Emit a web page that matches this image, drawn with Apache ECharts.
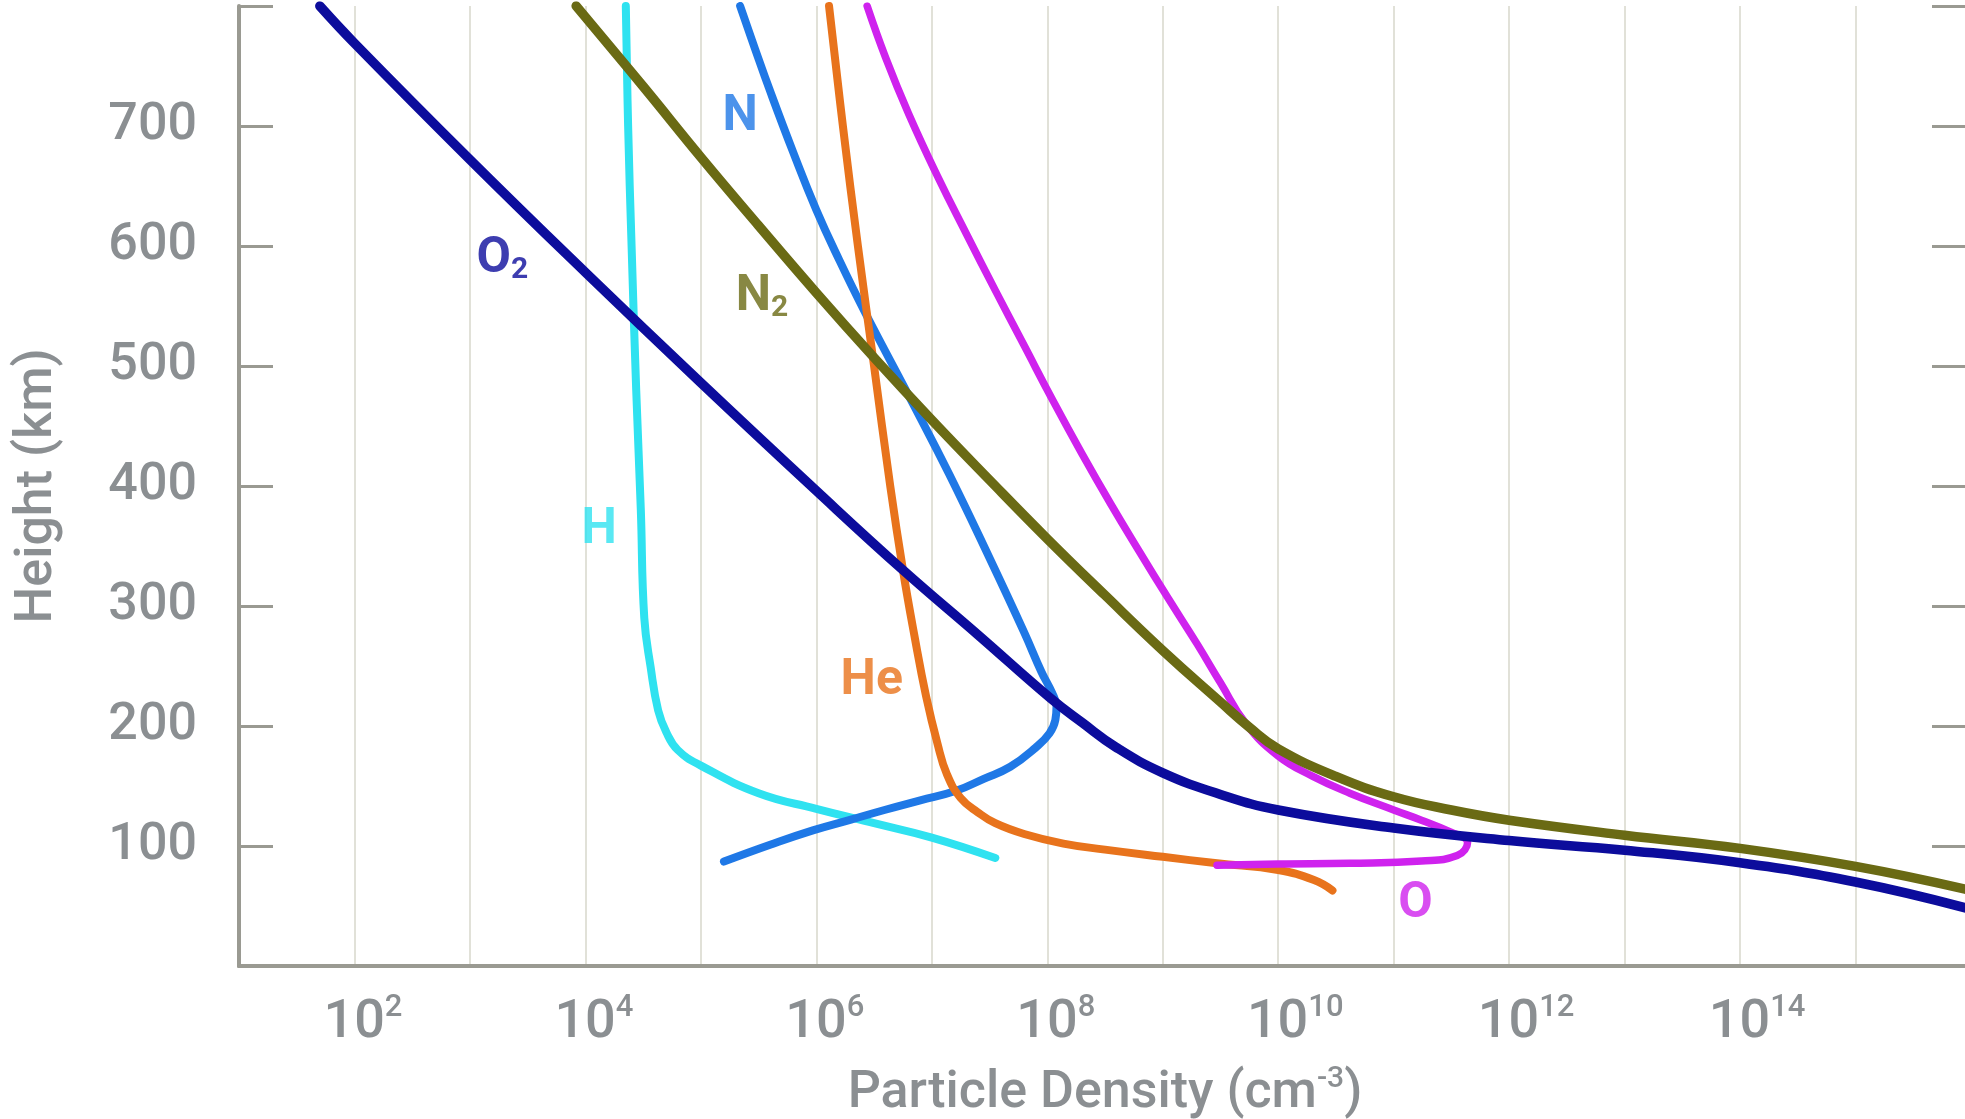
<!DOCTYPE html>
<html>
<head>
<meta charset="utf-8">
<script src="https://cdn.jsdelivr.net/npm/echarts@6/dist/echarts.min.js"></script>
<style>
  html, body { margin: 0; padding: 0; background: #ffffff; }
  #chart { width: 1965px; height: 1119px; }
</style>
</head>
<body>
<div id="chart"></div>
<script>
// ---------- axis ticks ----------
const heightTickValues = [100, 200, 300, 400, 500, 600, 700];
const densityLabelExponents = [2, 4, 6, 8, 10, 12, 14];   // labels 10^2 ... 10^14

// ---------- data: log10(particle density, cm^-3) and height (km) ----------
const O2_logDensity = [1.70, 2.0, 3.0, 4.0, 5.0, 6.0, 6.75, 7.4, 8.03, 8.3, 8.6, 9.0, 9.5, 10.0, 11.0, 12.0, 13.0, 14.0, 15.0, 15.97];
const O2_height     = [800, 769, 672, 578, 486, 396, 330, 276, 223, 203, 182, 161, 143, 130, 115, 104.5, 96.5, 86, 70, 48];

const N2_logDensity = [3.92, 4.5, 5.0, 5.5, 6.0, 6.5, 7.0, 7.5, 8.0, 8.5, 9.0, 9.5, 9.75, 10.0, 10.5, 11.0, 11.5, 12.0, 13.0, 14.0, 15.0, 15.95];
const N2_height     = [800, 733, 674, 617, 561, 507, 455, 405, 356, 309, 263, 220, 199, 181, 158, 141, 130, 121.5, 109, 98, 83, 64];

const H_logDensity  = [4.35, 4.37, 4.40, 4.44, 4.48, 4.51, 4.565, 4.63, 4.70, 4.80, 5.0, 5.5, 6.0, 6.5, 7.0, 7.55];
const H_height      = [800, 700, 600, 480, 380, 290, 249, 213, 195, 180, 167, 144, 131, 119, 107, 90];

const N_logDensity  = [5.34, 5.47, 5.60, 5.80, 6.00, 6.20, 6.42, 6.84, 7.15, 7.50, 7.80, 7.95, 8.04, 8.08, 8.07, 8.02, 7.90, 7.68, 7.45, 7.21, 6.90, 6.59, 6.30, 5.97, 5.60, 5.20];
const N_height      = [800, 764, 729, 678, 630, 588, 545, 468, 410, 340, 278, 245, 228, 216, 205, 194, 182, 166, 156, 146, 138, 130, 122, 113, 101, 87];

const He_logDensity = [6.11, 6.23, 6.36, 6.50, 6.64, 6.75, 6.85, 6.95, 7.05, 7.13, 7.25, 7.40, 7.55, 7.80, 8.14, 8.50, 9.00, 9.47, 10.00, 10.31, 10.47];
const He_height     = [800, 700, 600, 500, 400, 330, 275, 225, 185, 160, 140, 128, 119, 110, 102, 97, 91, 85.6, 80, 71.6, 63];

const O_logDensity  = [6.44, 6.60, 6.80, 7.05, 7.30, 7.55, 7.80, 8.05, 8.30, 8.55, 8.80, 9.05, 9.30, 9.50, 9.72, 10.0, 10.30, 10.62, 11.0, 11.24, 11.49, 11.64, 11.55, 11.24, 10.62, 10.0, 9.47];
const O_height      = [800, 757, 710, 658, 610, 563, 517, 471, 427, 385, 345, 306, 268, 236, 202, 175, 158, 144, 130, 121.5, 111.7, 103, 92, 87.5, 85.6, 85, 84];

// ---------- curve labels (anchor in data coordinates) ----------
const labelNames       = ['N', 'O2', 'N2', 'H', 'He', 'O'];
const labelLogDensity  = [5.34, 3.28, 5.53, 4.12, 6.48, 11.19];
const labelHeight      = [707, 589, 557, 363, 237, 51];

// ---------- styles ----------
const FONT = 'Roboto, "Noto Sans", "DejaVu Sans", sans-serif';
const textGray = '#8b8f92';
const axisGray = '#9a9a92';
const gridGray = '#e1e1d8';
const speciesStyle = {
  H:  { color: '#2fe2f0', width: 8 },
  N:  { color: '#1f78e6', width: 8 },
  He: { color: '#e8731c', width: 8 },
  O:  { color: '#cf22ee', width: 7.5 },
  N2: { color: '#6a6a14', width: 9.5 },
  O2: { color: '#0c0c9c', width: 9.5 }
};
const speciesData = {
  H:  [H_logDensity, H_height],
  N:  [N_logDensity, N_height],
  He: [He_logDensity, He_height],
  O:  [O_logDensity, O_height],
  N2: [N2_logDensity, N2_height],
  O2: [O2_logDensity, O2_height]
};
const drawOrder = ['H', 'N', 'He', 'O', 'N2', 'O2'];

const lineSeries = drawOrder.map(k => ({
  name: k,
  type: 'line',
  xAxisIndex: 0,
  yAxisIndex: 0,
  data: speciesData[k][0].map((e, i) => [e, speciesData[k][1][i]]),
  showSymbol: false,
  symbol: 'none',
  smooth: 0.45,
  silent: true,
  lineStyle: { color: speciesStyle[k].color, width: speciesStyle[k].width, cap: 'round', join: 'round' }
}));

const labelSeries = {
  type: 'scatter',
  xAxisIndex: 0,
  yAxisIndex: 0,
  symbolSize: 1,
  silent: true,
  z: 10,
  itemStyle: { color: 'rgba(0,0,0,0)' },
  data: labelNames.map((n, i) => ({
    name: n,
    value: [labelLogDensity[i], labelHeight[i]],
    label: { color: speciesStyle[n].color }
  })),
  label: {
    show: true,
    position: 'inside',
    formatter: p => {
      const m = p.name.match(/^([A-Za-z]+)(\d?)$/);
      return m[2] ? '{m|' + m[1] + '}{s|' + m[2] + '}' : '{m|' + m[1] + '}';
    },
    rich: {
      m: { fontSize: 50, lineHeight: 52, fontWeight: 'bold', fontFamily: FONT },
      s: { fontSize: 30, lineHeight: 26, fontWeight: 'bold', fontFamily: FONT, verticalAlign: 'bottom' }
    }
  }
};

const chart = echarts.init(document.getElementById('chart'));
chart.setOption({
  animation: false,
  backgroundColor: '#ffffff',
  textStyle: { fontFamily: FONT },
  grid: { left: 239, right: -6, top: 6, bottom: 153, containLabel: false, outerBoundsMode: 'none' },
  xAxis: [
    {
      type: 'value', position: 'bottom', min: 1, max: 16, interval: 1,
      name: 'Particle Density (cm{sup|-3})',
      nameLocation: 'middle', nameGap: 98,
      nameTextStyle: {
        color: textGray, fontSize: 52, lineHeight: 60, fontWeight: 500, fontFamily: FONT,
        rich: { sup: { color: textGray, fontSize: 30, lineHeight: 40, fontWeight: 500, fontFamily: FONT, verticalAlign: 'top' } }
      },
      axisLine: { show: true, lineStyle: { color: axisGray, width: 4 } },
      axisTick: { show: false },
      splitLine: { show: true, lineStyle: { color: gridGray, width: 2 } },
      axisLabel: {
        margin: 27,
        formatter: v => {
          const e = Math.round(v);
          if (densityLabelExponents.indexOf(e) < 0) return '';
          const s = String(e);
          return '{' + (s.length > 1 ? 'b2' : 'b1') + '|10}{sup|' + s + '}';
        },
        rich: {
          b1: { color: textGray, fontSize: 54, lineHeight: 60, fontWeight: 500, fontFamily: FONT, padding: [0, 0, 0, 17] },
          b2: { color: textGray, fontSize: 54, lineHeight: 60, fontWeight: 500, fontFamily: FONT, padding: [0, 0, 0, 34] },
          sup: { color: textGray, fontSize: 31, lineHeight: 40, fontWeight: 500, fontFamily: FONT, verticalAlign: 'top' }
        }
      }
    },
    {
      type: 'value', position: 'top', min: 1, max: 16, interval: 1,
      axisLine: { show: true, lineStyle: { color: axisGray, width: 4 } },
      axisTick: { show: false }, axisLabel: { show: false }, splitLine: { show: false }
    }
  ],
  yAxis: [
    {
      type: 'value', position: 'left', min: 0, max: 800, interval: 100,
      name: 'Height (km)', nameLocation: 'middle', nameGap: 171, nameRotate: 90,
      nameTextStyle: { color: textGray, fontSize: 52, lineHeight: 60, fontWeight: 500, fontFamily: FONT },
      axisLine: { show: true, lineStyle: { color: axisGray, width: 4 } },
      axisTick: { show: true, inside: true, length: 34, lineStyle: { color: axisGray, width: 3 } },
      splitLine: { show: false },
      axisLabel: {
        margin: 42, color: textGray, fontSize: 52, fontWeight: 500, fontFamily: FONT,
        formatter: v => (heightTickValues.indexOf(v) >= 0 ? String(v) : '')
      }
    },
    {
      type: 'value', position: 'right', offset: -6, min: 0, max: 800, interval: 100,
      axisLine: { show: false },
      axisTick: { show: true, inside: true, length: 33, lineStyle: { color: axisGray, width: 3 } },
      axisLabel: { show: false }, splitLine: { show: false }
    }
  ],
  series: lineSeries.concat([labelSeries])
});
</script>
</body>
</html>
